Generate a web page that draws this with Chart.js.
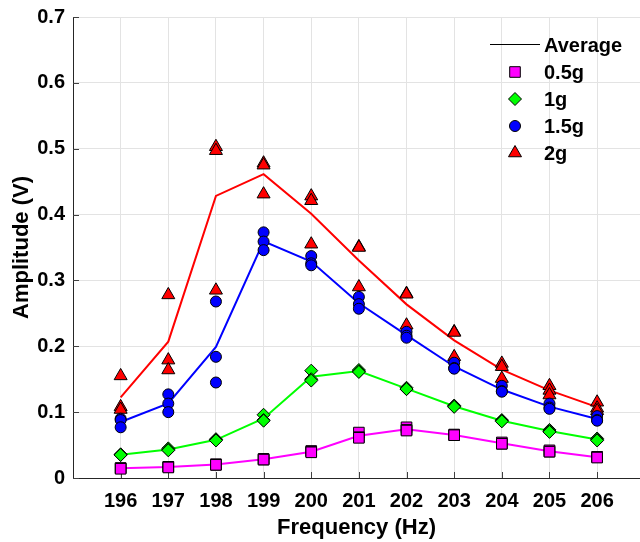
<!DOCTYPE html>
<html>
<head>
<meta charset="utf-8">
<script src="https://cdn.jsdelivr.net/npm/chart.js@4.4.1/dist/chart.umd.min.js"></script>
<style>
  html, body { margin: 0; padding: 0; background: #fff; }
  #wrap { width: 640px; height: 542px; }
</style>
</head>
<body>
<div id="wrap"><canvas id="myChart" width="640" height="542"></canvas></div>
<script>
const freqs = [196, 197, 198, 199, 200, 201, 202, 203, 204, 205, 206];
const yTickLabels = ['0', '0.1', '0.2', '0.3', '0.4', '0.5', '0.6', '0.7'];
const seriesNames = ['0.5g', '1g', '1.5g', '2g'];

// three readings per frequency
const amp05g = [
    [0.015, 0.015, 0.014], [0.017, 0.017, 0.016], [0.021, 0.020, 0.020], [0.029, 0.028, 0.028],
    [0.041, 0.040, 0.039], [0.069, 0.062, 0.061], [0.077, 0.073, 0.072], [0.066, 0.065, 0.065],
    [0.054, 0.052, 0.052], [0.042, 0.040, 0.040], [0.032, 0.032, 0.031]
];
const amp1g = [
    [0.036, 0.035, 0.035], [0.045, 0.043, 0.042], [0.059, 0.058, 0.057], [0.096, 0.088, 0.087],
    [0.163, 0.150, 0.148], [0.164, 0.162, 0.161], [0.137, 0.135, 0.135], [0.110, 0.109, 0.108],
    [0.088, 0.087, 0.086], [0.073, 0.071, 0.070], [0.060, 0.058, 0.057]
];
const amp15g = [
    [0.090, 0.088, 0.077], [0.127, 0.113, 0.100], [0.268, 0.184, 0.145], [0.373, 0.359, 0.346],
    [0.337, 0.326, 0.323], [0.275, 0.264, 0.257], [0.222, 0.216, 0.213], [0.175, 0.167, 0.166],
    [0.140, 0.132, 0.131], [0.113, 0.107, 0.105], [0.094, 0.088, 0.087]
];
const amp2g = [
    [0.155, 0.108, 0.104], [0.278, 0.179, 0.164], [0.503, 0.497, 0.285], [0.478, 0.475, 0.431],
    [0.428, 0.421, 0.355], [0.351, 0.350, 0.290], [0.280, 0.279, 0.232], [0.222, 0.221, 0.184],
    [0.174, 0.169, 0.151], [0.140, 0.133, 0.126], [0.115, 0.106, 0.102]
];

const colors = ['#ff00ff', '#00ff00', '#0000ff', '#ff0000'];
const styles = [
    { pointStyle: 'rect', radius: 7.5 },
    { pointStyle: 'rectRot', radius: 6.5 },
    { pointStyle: 'circle', radius: 5.5 },
    { pointStyle: 'triangle', radius: 7.5 }
];
const allAmps = [amp05g, amp1g, amp15g, amp2g];

const FONT = '"Liberation Sans", Arial, sans-serif';

function toPoints(rows) {
    return freqs.flatMap((f, i) => rows[i].map(v => ({ x: f, y: v })));
}
function toMeans(rows) {
    return freqs.map((f, i) => ({ x: f, y: rows[i].reduce((a, b) => a + b, 0) / rows[i].length }));
}

const datasets = [];
allAmps.forEach((rows, k) => {
    datasets.push({
        label: seriesNames[k],
        data: toPoints(rows),
        pointStyle: styles[k].pointStyle,
        pointRadius: styles[k].radius,
        pointBackgroundColor: colors[k],
        pointBorderColor: '#000',
        pointBorderWidth: 1,
        showLine: false,
        order: k + 1
    });
});
allAmps.forEach((rows, k) => {
    datasets.push({
        label: seriesNames[k] + ' avg',
        data: toMeans(rows),
        showLine: true,
        borderColor: colors[k],
        borderWidth: 2,
        pointRadius: 0,
        tension: 0,
        order: 10 + k
    });
});

// small inward tick marks, like the original
const innerTicks = {
    id: 'innerTicks',
    beforeDatasetsDraw(chart) {
        const { ctx, chartArea, scales: { x, y } } = chart;
        ctx.save();
        ctx.strokeStyle = '#404040';
        ctx.lineWidth = 1;
        ctx.beginPath();
        x.ticks.forEach(t => {
            const px = Math.round(x.getPixelForValue(t.value)) + 0.5;
            ctx.moveTo(px, chartArea.bottom);
            ctx.lineTo(px, chartArea.bottom - 6);
        });
        y.ticks.forEach(t => {
            const py = Math.round(y.getPixelForValue(t.value)) + 0.5;
            ctx.moveTo(chartArea.left, py);
            ctx.lineTo(chartArea.left + 6, py);
        });
        ctx.stroke();
        ctx.restore();
    }
};

// legend box in the upper right of the plot
const insideLegend = {
    id: 'insideLegend',
    afterDraw(chart) {
        const ctx = chart.ctx;
        ctx.save();
        ctx.font = 'bold 20px ' + FONT;
        ctx.fillStyle = '#000';
        ctx.textBaseline = 'middle';
        ctx.textAlign = 'left';

        ctx.strokeStyle = '#000';
        ctx.lineWidth = 1;
        ctx.beginPath();
        ctx.moveTo(490, 44.5);
        ctx.lineTo(540, 44.5);
        ctx.stroke();
        ctx.fillText('Average', 544, 46);

        seriesNames.forEach((name, k) => {
            const yy = 72 + k * 27;
            ctx.fillStyle = colors[k];
            ctx.strokeStyle = '#000';
            ctx.lineWidth = 1;
            Chart.helpers.drawPoint(ctx, {
                pointStyle: styles[k].pointStyle,
                radius: styles[k].radius,
                rotation: 0,
                borderWidth: 1
            }, 515, yy);
            ctx.fillStyle = '#000';
            ctx.fillText(name, 544, yy + 1);
        });
        ctx.restore();
    }
};

new Chart(document.getElementById('myChart'), {
    type: 'scatter',
    data: { datasets },
    plugins: [innerTicks, insideLegend],
    options: {
        responsive: false,
        animation: false,
        layout: { autoPadding: false, padding: { top: 17, right: 0, left: 0, bottom: 0 } },
        plugins: {
            legend: { display: false },
            tooltip: { enabled: false }
        },
        scales: {
            x: {
                type: 'linear',
                min: 195,
                max: 206.9,
                afterBuildTicks: axis => { axis.ticks = freqs.map(v => ({ value: v })); },
                afterFit: s => { s.height = 64; s.paddingLeft = 0; s.paddingRight = 0; },
                grid: { color: '#e3e3e3', drawTicks: false },
                border: { color: '#262626', width: 1 },
                ticks: {
                    padding: 11,
                    color: '#000',
                    font: { family: FONT, size: 20, weight: 'bold' },
                    callback: v => String(v)
                },
                title: {
                    display: true,
                    text: 'Frequency (Hz)',
                    color: '#000',
                    font: { family: FONT, size: 22, weight: 'bold' },
                    padding: { top: 0, bottom: 1 }
                }
            },
            y: {
                type: 'linear',
                min: 0,
                max: 0.7,
                afterBuildTicks: axis => { axis.ticks = yTickLabels.map(s => ({ value: Number(s) })); },
                afterFit: s => { s.width = 73; s.paddingTop = 0; s.paddingBottom = 0; },
                grid: { color: '#e3e3e3', drawTicks: false },
                border: { color: '#262626', width: 1 },
                ticks: {
                    padding: 8,
                    color: '#000',
                    font: { family: FONT, size: 20, weight: 'bold' },
                    callback: (v, i) => yTickLabels[i]
                },
                title: {
                    display: true,
                    text: 'Amplitude (V)',
                    color: '#000',
                    font: { family: FONT, size: 22, weight: 'bold' },
                    padding: { top: 9, bottom: 0 }
                }
            }
        }
    }
});
</script>
</body>
</html>
